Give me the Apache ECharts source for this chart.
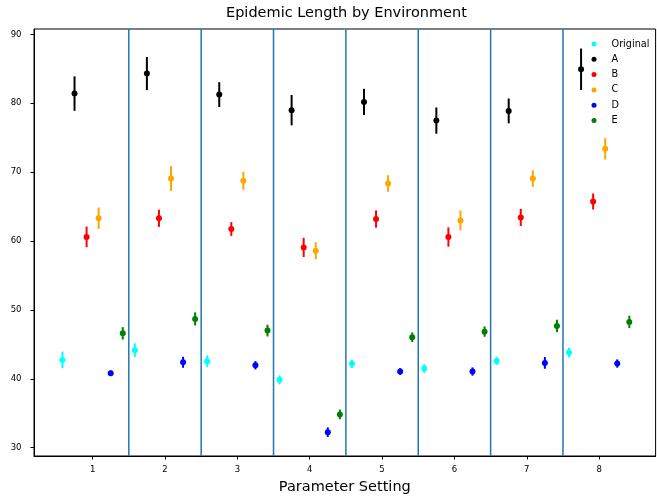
<!DOCTYPE html>
<html>
<head>
    <meta charset="utf-8">
    <title>Epidemic Length by Environment</title>
    <script src="https://cdn.jsdelivr.net/npm/echarts@6/dist/echarts.min.js"></script>
    <style>
        body { margin: 0; background: #fff; }
    </style>
</head>
<body>
<div id="main" style="width: 657px;height:500px;"></div>
<script type="text/javascript">
    // parameter settings on the x axis
    var settings = [1, 2, 3, 4, 5, 6, 7, 8];
    var seriesNames = ['Original', 'A', 'B', 'C', 'D', 'E'];
    var seriesColors = ['#00ffff', '#000000', '#ff0000', '#ffa500', '#0000ff', '#008000'];
    var offsets = [-5 / 12, -3 / 12, -1 / 12, 1 / 12, 3 / 12, 5 / 12];
    var separators = [1.5, 2.5, 3.5, 4.5, 5.5, 6.5, 7.5];
    var yTicks = [30, 40, 50, 60, 70, 80, 90];

    // means and error sizes
    var original    = [42.75, 44.15, 42.55, 39.85, 42.17, 41.49, 42.6, 43.81];
    var originalErr = [1.2, 1.0, 0.85, 0.65, 0.6, 0.65, 0.6, 0.7];
    var envA        = [81.4, 84.3, 81.25, 78.99, 80.19, 77.48, 78.88, 84.93];
    var envAErr     = [2.5, 2.4, 1.8, 2.2, 1.9, 1.9, 1.8, 3.0];
    var envB        = [60.6, 63.3, 61.74, 59.07, 63.19, 60.58, 63.42, 65.74];
    var envBErr     = [1.5, 1.25, 1.0, 1.4, 1.25, 1.4, 1.25, 1.16];
    var envC        = [63.3, 69.07, 68.74, 58.59, 68.35, 62.99, 69.07, 73.38];
    var envCErr     = [1.55, 1.8, 1.3, 1.25, 1.2, 1.45, 1.2, 1.55];
    var envD        = [40.8, 42.4, 41.97, 32.26, 41.06, 41.06, 42.31, 42.22];
    var envDErr     = [0.4, 0.8, 0.6, 0.7, 0.5, 0.6, 0.85, 0.6];
    var envE        = [46.6, 48.7, 47.0, 34.83, 46.03, 46.85, 47.68, 48.26];
    var envEErr     = [0.9, 0.95, 0.85, 0.7, 0.7, 0.75, 0.9, 0.9];

    var means = [original, envA, envB, envC, envD, envE];
    var errs = [originalErr, envAErr, envBErr, envCErr, envDErr, envEErr];

    var X_MIN = 0.19, X_MAX = 8.78, Y_MIN = 28.8, Y_MAX = 90.77;
    var FONT = 'DejaVu Sans';

    var series = [];

    // blue separators between settings
    series.push({
        name: 'sep',
        type: 'custom',
        silent: true,
        data: separators.map(function (v) { return [v]; }),
        encode: {x: 0},
        renderItem: function (params, api) {
            var p1 = api.coord([api.value(0), Y_MIN]);
            var p2 = api.coord([api.value(0), Y_MAX]);
            return {
                type: 'line',
                shape: {x1: p1[0], y1: p1[1], x2: p2[0], y2: p2[1]},
                style: {stroke: '#1f77b4', lineWidth: 1.5}
            };
        },
        z: 1
    });

    seriesNames.forEach(function (name, i) {
        var pts = settings.map(function (s, k) {
            return [s + offsets[i], means[i][k], errs[i][k]];
        });
        // error bars
        series.push({
            name: name + ' err',
            type: 'custom',
            silent: true,
            data: pts,
            encode: {x: 0, y: 1},
            renderItem: function (params, api) {
                var x = api.value(0), y = api.value(1), e = api.value(2);
                var p1 = api.coord([x, y - e]);
                var p2 = api.coord([x, y + e]);
                return {
                    type: 'line',
                    shape: {x1: p1[0], y1: p1[1], x2: p2[0], y2: p2[1]},
                    style: {stroke: seriesColors[i], lineWidth: 2}
                };
            },
            z: 2
        });
        // mean markers
        series.push({
            name: name,
            type: 'scatter',
            symbol: 'circle',
            symbolSize: 6,
            itemStyle: {color: seriesColors[i], opacity: 1},
            data: pts.map(function (p) { return [p[0], p[1]]; }),
            z: 3
        });
    });

    var myChart = echarts.init(document.getElementById('main'));
    var option = {
        animation: false,
        title: {
            text: 'Epidemic Length by Environment',
            left: 226,
            top: 6,
            padding: 0,
            textStyle: {fontFamily: FONT, fontSize: 14.5, fontWeight: 'normal', color: '#000'}
        },
        legend: {
            data: seriesNames,
            orient: 'vertical',
            left: 591.5,
            top: 38,
            padding: 0,
            itemGap: 3.3,
            itemWidth: 5,
            itemHeight: 5,
            icon: 'circle',
            textStyle: {fontFamily: FONT, fontSize: 9.7, color: '#000', lineHeight: 12, padding: [0, 0, 0, 10]}
        },
        grid: {
            left: 34,
            right: 1.4,
            top: 29,
            bottom: 43.3,
            show: true,
            borderColor: '#000',
            borderWidth: 1
        },
        xAxis: {
            type: 'value',
            min: X_MIN,
            max: X_MAX,
            name: 'Parameter Setting',
            nameLocation: 'middle',
            nameGap: 24,
            nameTextStyle: {fontFamily: FONT, fontSize: 14.5, color: '#000'},
            axisLine: {show: true, lineStyle: {color: '#000', width: 1}},
            axisTick: {show: true, length: 3.5, customValues: settings, lineStyle: {color: '#000'}},
            axisLabel: {customValues: settings, margin: 9, fontFamily: FONT, fontSize: 8.5, color: '#000'},
            splitLine: {show: false}
        },
        yAxis: {
            type: 'value',
            min: Y_MIN,
            max: Y_MAX,
            axisLine: {show: true, lineStyle: {color: '#000', width: 1}},
            axisTick: {show: true, length: 3.5, customValues: yTicks, lineStyle: {color: '#000'}},
            axisLabel: {customValues: yTicks, margin: 12.5, fontFamily: FONT, fontSize: 8.5, color: '#000'},
            splitLine: {show: false}
        },
        series: series
    };
    myChart.setOption(option);
</script>
</body>
</html>
